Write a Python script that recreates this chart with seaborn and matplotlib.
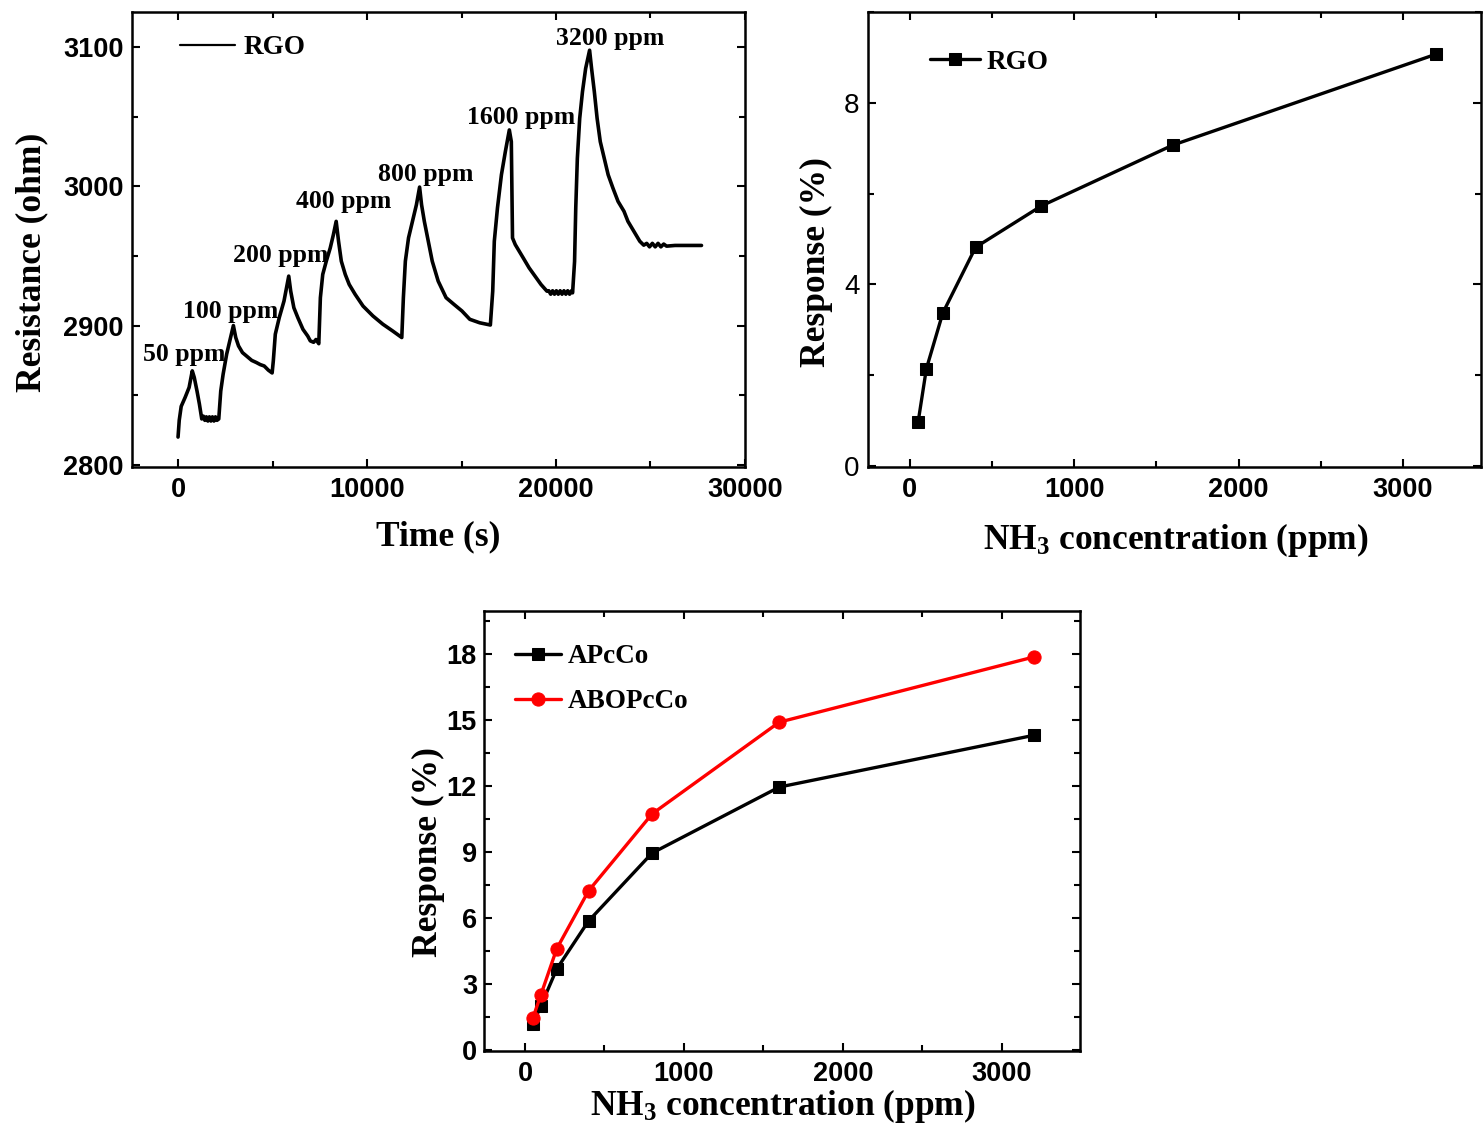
import matplotlib
matplotlib.use("Agg")
import matplotlib.pyplot as plt
from matplotlib.ticker import MultipleLocator
from matplotlib.font_manager import FontProperties
import pandas as pd
import seaborn as sns

# ---------------- data ----------------
time_s = [0, 63, 167, 377, 586, 753, 858, 1004, 1130, 1255,
          1340, 1420, 1500, 1580, 1660, 1740, 1820, 1900, 1980, 2060, 2155,
          2260, 2385, 2573, 2782, 2929,
          3054, 3201, 3410, 3724, 3900, 4142, 4350, 4560, 4780, 4979,
          5042, 5147, 5356, 5607, 5858,
          5962, 6129, 6339, 6611, 6862, 7000, 7176, 7300, 7448,
          7532, 7657, 7845, 8054, 8222, 8368,
          8494, 8640, 8849, 9058, 9372, 9790, 10313, 10836, 11360, 11840,
          11924, 12029, 12196, 12405, 12614, 12782,
          12887, 13033, 13243, 13452, 13766, 14184, 14602, 15021, 15439, 15962, 16300, 16527,
          16652, 16736, 16903, 17112, 17321, 17531, 17636, 17699,
          17845, 18055, 18264, 18578, 18892, 19206, 19520,
          19620, 19720, 19820, 19920, 20020, 20120, 20220, 20320, 20420, 20520, 20620,
          20720, 20820, 20878,
          20983, 21046, 21130, 21255, 21401, 21569, 21778,
          21883, 22029, 22176, 22343, 22552, 22761, 23012, 23284, 23598, 23807, 24121,
          24435, 24644, 24800, 24950, 25100, 25250, 25400, 25550, 25700, 25850, 26300,
          26800, 27300, 27700]
resistance_ohm = [2820, 2832, 2842, 2848.5, 2855.6, 2867.5, 2862.8, 2853, 2843.7, 2833,
                  2835, 2832, 2834.5, 2831.5, 2834.5, 2831.5, 2834.5, 2831.5, 2834.5, 2832, 2833,
                  2853, 2865, 2879.5, 2891.4, 2900,
                  2891.4, 2885.4, 2880.6, 2877, 2875, 2873.5, 2872, 2871, 2868, 2866,
                  2874.7, 2893.8, 2905.7, 2917.6, 2935.5,
                  2924.7, 2912.8, 2905.7, 2897.3, 2892.5, 2889, 2888, 2890, 2887,
                  2920, 2936.7, 2946.2, 2955.7, 2965.3, 2974.8,
                  2960.5, 2946.2, 2936.7, 2929.5, 2922.4, 2914, 2906.9, 2901, 2896.1, 2891.4,
                  2920, 2946.2, 2962.9, 2974.8, 2986.7, 2999.4,
                  2986.7, 2974.8, 2960.5, 2946.2, 2931.9, 2920, 2915.2, 2910.5, 2904.5, 2902,
                  2901, 2900.4,
                  2924.7, 2960.5, 2984.4, 3008.2, 3024.9, 3040.4, 3032, 2962.9,
                  2958.1, 2953.4, 2948.6, 2941.4, 2935.5, 2929.5, 2924.7,
                  2925, 2922.5, 2925, 2922.5, 2925, 2922.5, 2925, 2922.5, 2925, 2922.5, 2925,
                  2922.5, 2925, 2923.5,
                  2946, 2984.4, 3020, 3048.7, 3067.8, 3084.5, 3097.6,
                  3084.5, 3067.8, 3048.7, 3032, 3020, 3008.2, 2998.7, 2989.1, 2982, 2974.8,
                  2967.7,
                  2960.5, 2957.7, 2959, 2956.5, 2959, 2956.5, 2959, 2956.5, 2958.5, 2957,
                  2957.5, 2957.5, 2957.5, 2957.5]

pulse_labels = ["50 ppm", "100 ppm", "200 ppm", "400 ppm", "800 ppm", "1600 ppm", "3200 ppm"]

conc_ppm = [50, 100, 200, 400, 800, 1600, 3200]
rgo_response = [0.97, 2.14, 3.37, 4.82, 5.73, 7.07, 9.07]
apcco_response = [1.18, 2.00, 3.68, 5.86, 8.95, 11.95, 14.30]
abopcco_response = [1.45, 2.50, 4.60, 7.23, 10.73, 14.90, 17.86]

# ---------------- style ----------------
sns.set_theme(style="ticks")
plt.rcParams.update({
    "font.family": ["Liberation Sans", "DejaVu Sans"],
    "font.weight": "bold",
    "mathtext.default": "regular",
    "text.color": "black",
    "axes.labelcolor": "black",
    "axes.linewidth": 1.8,
    "axes.edgecolor": "black",
    "xtick.color": "black",
    "ytick.color": "black",
    "xtick.labelcolor": "black",
    "ytick.labelcolor": "black",
    "xtick.direction": "in",
    "ytick.direction": "in",
    "xtick.major.size": 6,
    "ytick.major.size": 6,
    "xtick.minor.size": 4,
    "ytick.minor.size": 4,
    "xtick.major.width": 1.5,
    "ytick.major.width": 1.5,
    "xtick.minor.width": 1.5,
    "ytick.minor.width": 1.5,
    "xtick.labelsize": 19.5,
    "ytick.labelsize": 19.5,
})

serif_label = FontProperties(family="Liberation Serif", weight="bold", size=25.5)
serif_legend = FontProperties(family="Liberation Serif", weight="bold", size=19.5)
serif_annot = FontProperties(family="Liberation Serif", weight="bold", size=18.5)

fig = plt.figure(figsize=(14.84, 11.36), dpi=100)
ax1 = fig.add_axes([0.0889, 0.5889, 0.4131, 0.4005])
ax2 = fig.add_axes([0.5849, 0.5889, 0.4131, 0.4005])
ax3 = fig.add_axes([0.3261, 0.0748, 0.4016, 0.3873])


def style_axes(ax):
    ax.tick_params(which="both", direction="in", top=True, right=True,
                   bottom=True, left=True)
    for sp in ax.spines.values():
        sp.set_visible(True)
        sp.set_linewidth(1.8)
        sp.set_color("black")


# ---------------- panel 1: resistance vs time ----------------
df_t = pd.DataFrame({"Time": time_s, "Resistance": resistance_ohm})
sns.lineplot(data=df_t, x="Time", y="Resistance", ax=ax1, sort=False, estimator=None,
             color="black", linewidth=2.6, label="RGO")
ax1.set_xlim(-2440, 30000)
ax1.set_ylim(2798.5, 3125)
ax1.xaxis.set_major_locator(MultipleLocator(10000))
ax1.xaxis.set_minor_locator(MultipleLocator(5000))
ax1.yaxis.set_major_locator(MultipleLocator(100))
ax1.yaxis.set_minor_locator(MultipleLocator(50))
style_axes(ax1)
ax1.tick_params(axis="x", which="major", pad=7)
ax1.tick_params(axis="y", which="major", pad=6)
ax1.set_xlabel("Time (s)", fontproperties=serif_label)
ax1.set_ylabel("Resistance (ohm)", fontproperties=serif_label)
ax1.xaxis.set_label_coords(0.499, -0.118)
ax1.yaxis.set_label_coords(-0.137, 0.45)
label_xy = [(317, 2879), (2804, 2910), (5450, 2950), (8783, 2989),
            (13122, 3008.6), (18148, 3049.5), (22857, 3106)]
for txt, (tx, ty) in zip(pulse_labels, label_xy):
    ax1.text(tx, ty, txt, ha="center", va="center", fontproperties=serif_annot,
             color="black")
leg1 = ax1.legend(loc="center left", bbox_to_anchor=(0.078, 0.921), frameon=False,
                  borderpad=0, borderaxespad=0, handlelength=2.05, handletextpad=0.3,
                  prop=serif_legend)
for h in leg1.get_lines():
    h.set_linewidth(1.6)

# ---------------- panel 2: RGO response ----------------
df_r = pd.DataFrame({"Concentration": conc_ppm, "Response": rgo_response})
sns.lineplot(data=df_r, x="Concentration", y="Response", ax=ax2, color="black",
             linewidth=2.4, marker="s", markersize=9, markeredgecolor="black",
             label="RGO")
ax2.set_xlim(-255, 3475)
ax2.set_ylim(-0.02, 10.0)
ax2.xaxis.set_major_locator(MultipleLocator(1000))
ax2.xaxis.set_minor_locator(MultipleLocator(500))
ax2.set_yticks([0, 4, 8], labels=["0", "4", "8"], fontsize=20, fontweight="normal")
ax2.yaxis.set_minor_locator(MultipleLocator(2))
style_axes(ax2)
ax2.tick_params(axis="x", which="major", pad=7)
ax2.tick_params(axis="y", which="major", pad=6)
ax2.set_xlabel("NH$_3$ concentration (ppm)", fontproperties=serif_label)
ax2.set_ylabel("Response (%)", fontproperties=serif_label)
ax2.xaxis.set_label_coords(0.502, -0.118)
ax2.yaxis.set_label_coords(-0.057, 0.45)
ax2.legend(loc="center left", bbox_to_anchor=(0.101, 0.890), frameon=False,
           borderpad=0, borderaxespad=0, handlelength=1.85, handletextpad=0.25,
           prop=serif_legend)

# ---------------- panel 3: APcCo / ABOPcCo ----------------
df_a = pd.DataFrame({"Concentration": conc_ppm, "Response": apcco_response})
df_b = pd.DataFrame({"Concentration": conc_ppm, "Response": abopcco_response})
sns.lineplot(data=df_a, x="Concentration", y="Response", ax=ax3, color="black",
             linewidth=2.4, marker="s", markersize=9, markeredgecolor="black",
             label="APcCo")
sns.lineplot(data=df_b, x="Concentration", y="Response", ax=ax3, color="#ff0000",
             linewidth=2.4, marker="o", markersize=9.5, markeredgecolor="#ff0000",
             label="ABOPcCo")
ax3.set_xlim(-258, 3491)
ax3.set_ylim(-0.05, 19.95)
ax3.xaxis.set_major_locator(MultipleLocator(1000))
ax3.xaxis.set_minor_locator(MultipleLocator(500))
ax3.yaxis.set_major_locator(MultipleLocator(3))
ax3.yaxis.set_minor_locator(MultipleLocator(1.5))
style_axes(ax3)
ax3.tick_params(axis="x", which="major", pad=7)
ax3.tick_params(axis="y", which="major", pad=5)
ax3.set_xlabel("NH$_3$ concentration (ppm)", fontproperties=serif_label)
ax3.set_ylabel("Response (%)", fontproperties=serif_label)
ax3.xaxis.set_label_coords(0.502, -0.082)
ax3.yaxis.set_label_coords(-0.065, 0.452)
ax3.legend(loc="center left", bbox_to_anchor=(0.052, 0.845), frameon=False,
           borderpad=0, borderaxespad=0, handlelength=1.7, handletextpad=0.25,
           labelspacing=0.75, prop=serif_legend)

fig.savefig("out.png", dpi=100)
